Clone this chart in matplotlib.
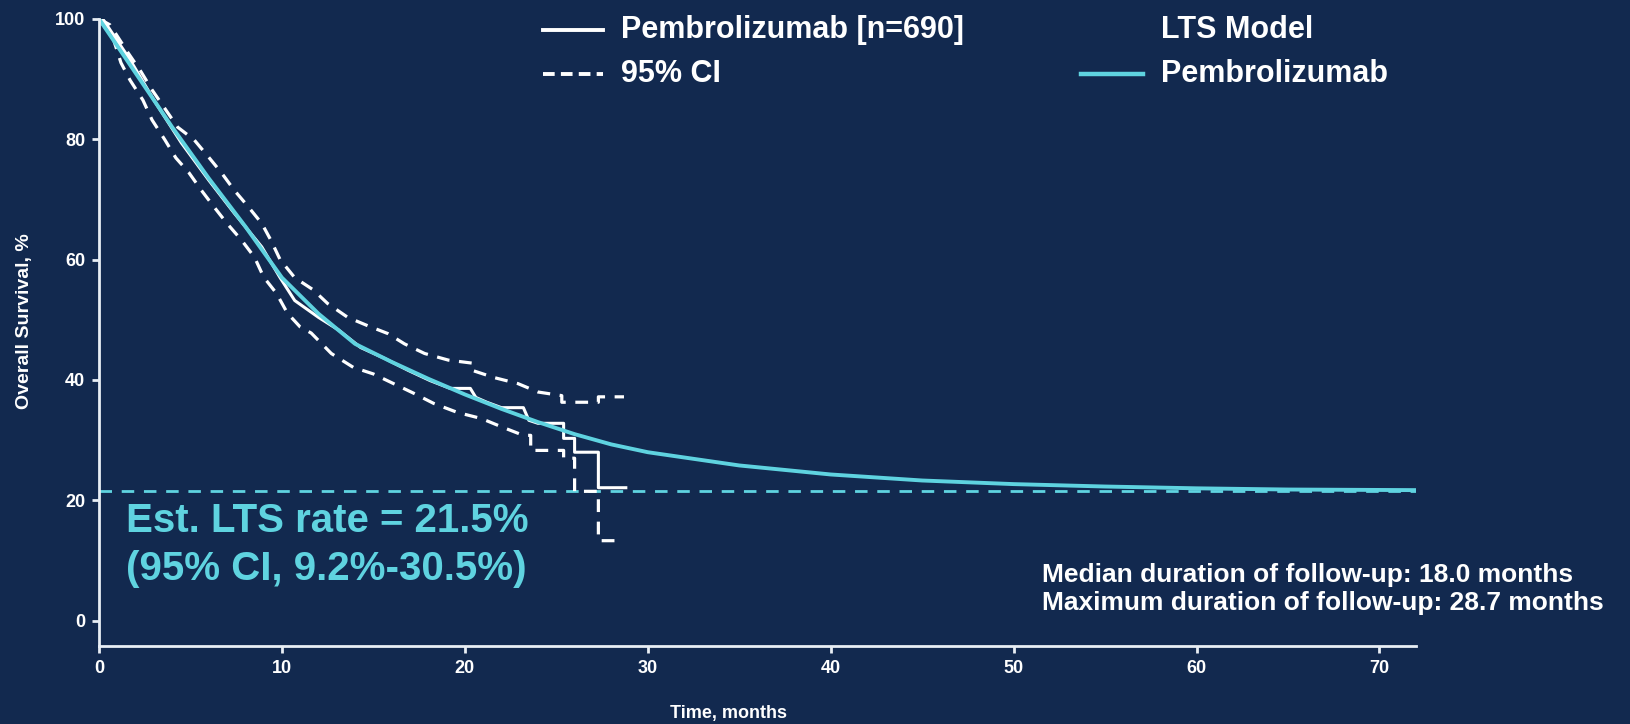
import matplotlib
matplotlib.use("Agg")
import matplotlib.pyplot as plt
from matplotlib.lines import Line2D

bg = "#12294f"
cyan = "#5fd3e0"

# Kaplan-Meier estimate (repeated t = vertical drop)
km_t = [0, 0.2, 1.7, 3.0, 4.5, 6.0, 7.4, 8.9, 9.9, 10.7, 12.0, 13.1, 14.3, 15.6,
        16.9, 18.1, 19.2, 20.3, 20.6, 21.2, 22.0, 23.2, 23.5, 24.0, 25.4, 25.4,
        26.0, 26.0, 27.3, 27.3, 28.8]
km_s = [100, 100, 93.2, 86.5, 79.4, 73.2, 67.7, 62.1, 57.0, 53.2, 50.4, 48.3, 45.4, 43.6,
        41.6, 39.9, 38.6, 38.6, 37.1, 36.3, 35.4, 35.4, 33.3, 32.8, 32.8, 30.3,
        30.3, 28.0, 28.0, 22.1, 22.1]

ci_up_t = [0, 0.6, 1.6, 2.3, 2.9, 4.3, 5.2, 6.0, 6.7, 7.4, 8.1, 8.9, 9.4, 9.9, 10.7, 11.7,
           12.5, 13.6, 14.7, 15.8, 16.7, 17.8, 19.1, 20.4, 20.4, 21.6, 22.9, 24.0, 25.3,
           25.3, 27.3, 27.3, 28.7]
ci_up_s = [100, 99, 94.3, 91.2, 88.2, 82.0, 79.9, 77.0, 74.4, 71.5, 69.0, 66.0, 63.2, 60.0,
           57.0, 55.0, 52.7, 50.4, 49.0, 47.7, 46.0, 44.4, 43.3, 42.8, 41.6, 40.4, 39.4,
           38.0, 37.4, 36.3, 36.3, 37.2, 37.2]

ci_lo_t = [0, 0.8, 1.2, 1.7, 2.4, 2.9, 3.6, 4.2, 4.9, 5.6, 6.3, 7.0, 7.8, 8.5, 9.0, 9.7,
           10.3, 11.0, 11.6, 12.7, 13.9, 15.0, 16.1, 17.2, 18.3, 19.6, 20.9, 22.1, 23.2,
           23.6, 23.6, 25.4, 25.4, 26.0, 26.0, 27.3, 27.3, 28.7]
ci_lo_s = [100, 96.5, 92.7, 89.8, 86.5, 83.2, 79.9, 76.9, 74.5, 71.5, 68.7, 66.0, 63.2, 60.4,
           57.1, 54.4, 51.1, 48.8, 47.8, 44.4, 42.1, 41.0, 39.4, 37.8, 36.1, 34.6, 33.6, 32.1,
           30.8, 30.8, 28.3, 28.3, 27.0, 27.0, 21.5, 21.5, 13.3, 13.3]

# LTS model curve
lts_t = [0, 2, 4, 6, 8, 10, 12, 14, 16, 18, 20, 22, 24, 26, 28, 30, 35, 40, 45, 50, 55, 60, 65, 72]
lts_s = [100, 91, 82, 73.5, 65.5, 57, 51, 46, 43, 40.2, 37.6, 35.2, 33, 31, 29.3, 28, 25.8,
         24.3, 23.3, 22.7, 22.3, 22.0, 21.8, 21.7]
lts_rate = 21.5

xticks = [0, 10, 20, 30, 40, 50, 60, 70]
yticks = [0, 20, 40, 60, 80, 100]

plt.rcParams['font.family'] = ['Liberation Sans', 'DejaVu Sans']
plt.rcParams['font.weight'] = 'bold'

fig = plt.figure(figsize=(16.31, 7.24), dpi=100, facecolor=bg)
ax = fig.add_axes([0.0607, 0.1077, 0.8075, 0.8663], facecolor=bg)

ax.axhline(lts_rate, color=cyan, lw=2, ls=(0, (4.5, 3.5)))
ax.plot(ci_up_t, ci_up_s, color="white", lw=2.3, ls=(0, (4, 3)))
ax.plot(ci_lo_t, ci_lo_s, color="white", lw=2.3, ls=(0, (4, 3)))
ax.plot(km_t, km_s, color="white", lw=2.2)
ax.plot(lts_t, lts_s, color=cyan, lw=2.8)

ax.set_xlim(0, 72)
ax.set_ylim(-4.2, 100)
ax.set_xticks(xticks)
ax.set_yticks(yticks)
for s in ["top", "right"]:
    ax.spines[s].set_visible(False)
for s in ["left", "bottom"]:
    ax.spines[s].set_color("#e8eef5")
    ax.spines[s].set_linewidth(2)
ax.tick_params(colors="#e8eef5", labelcolor="white", labelsize=13, width=2, length=5, pad=5)
ax.set_xlabel("Time, months", color="white", fontsize=13, fontweight="bold")
ax.xaxis.set_label_coords(0.478, -0.094)
ax.set_ylabel("Overall Survival, %", color="white", fontsize=14, fontweight="bold")
ax.yaxis.set_label_coords(-0.050, 0.518)

ax.text(1.5, 19.8, "Est. LTS rate = 21.5%\n(95% CI, 9.2%-30.5%)", color=cyan,
        fontsize=29, fontweight="bold", va="top", linespacing=1.36)
fig.text(0.639, 0.222, "Median duration of follow-up: 18.0 months\nMaximum duration of follow-up: 28.7 months",
         color="white", fontsize=19, fontweight="bold", va="top", linespacing=1.2)

# legend drawn by hand: two columns
fig.add_artist(Line2D([0.333, 0.370], [0.958, 0.958], color="white", lw=2.8, transform=fig.transFigure))
fig.add_artist(Line2D([0.333, 0.370], [0.898, 0.898], color="white", lw=2.8, ls=(0, (3, 1.6)),
                      transform=fig.transFigure))
fig.add_artist(Line2D([0.663, 0.701], [0.898, 0.898], color=cyan, lw=3.2, transform=fig.transFigure))
fig.text(0.381, 0.958, "Pembrolizumab [n=690]", color="white", fontsize=22, va="center")
fig.text(0.381, 0.898, "95% CI", color="white", fontsize=22, va="center")
fig.text(0.712, 0.958, "LTS Model", color="white", fontsize=22, va="center")
fig.text(0.712, 0.898, "Pembrolizumab", color="white", fontsize=22, va="center")

fig.savefig("out.png", dpi=100, facecolor=bg)
